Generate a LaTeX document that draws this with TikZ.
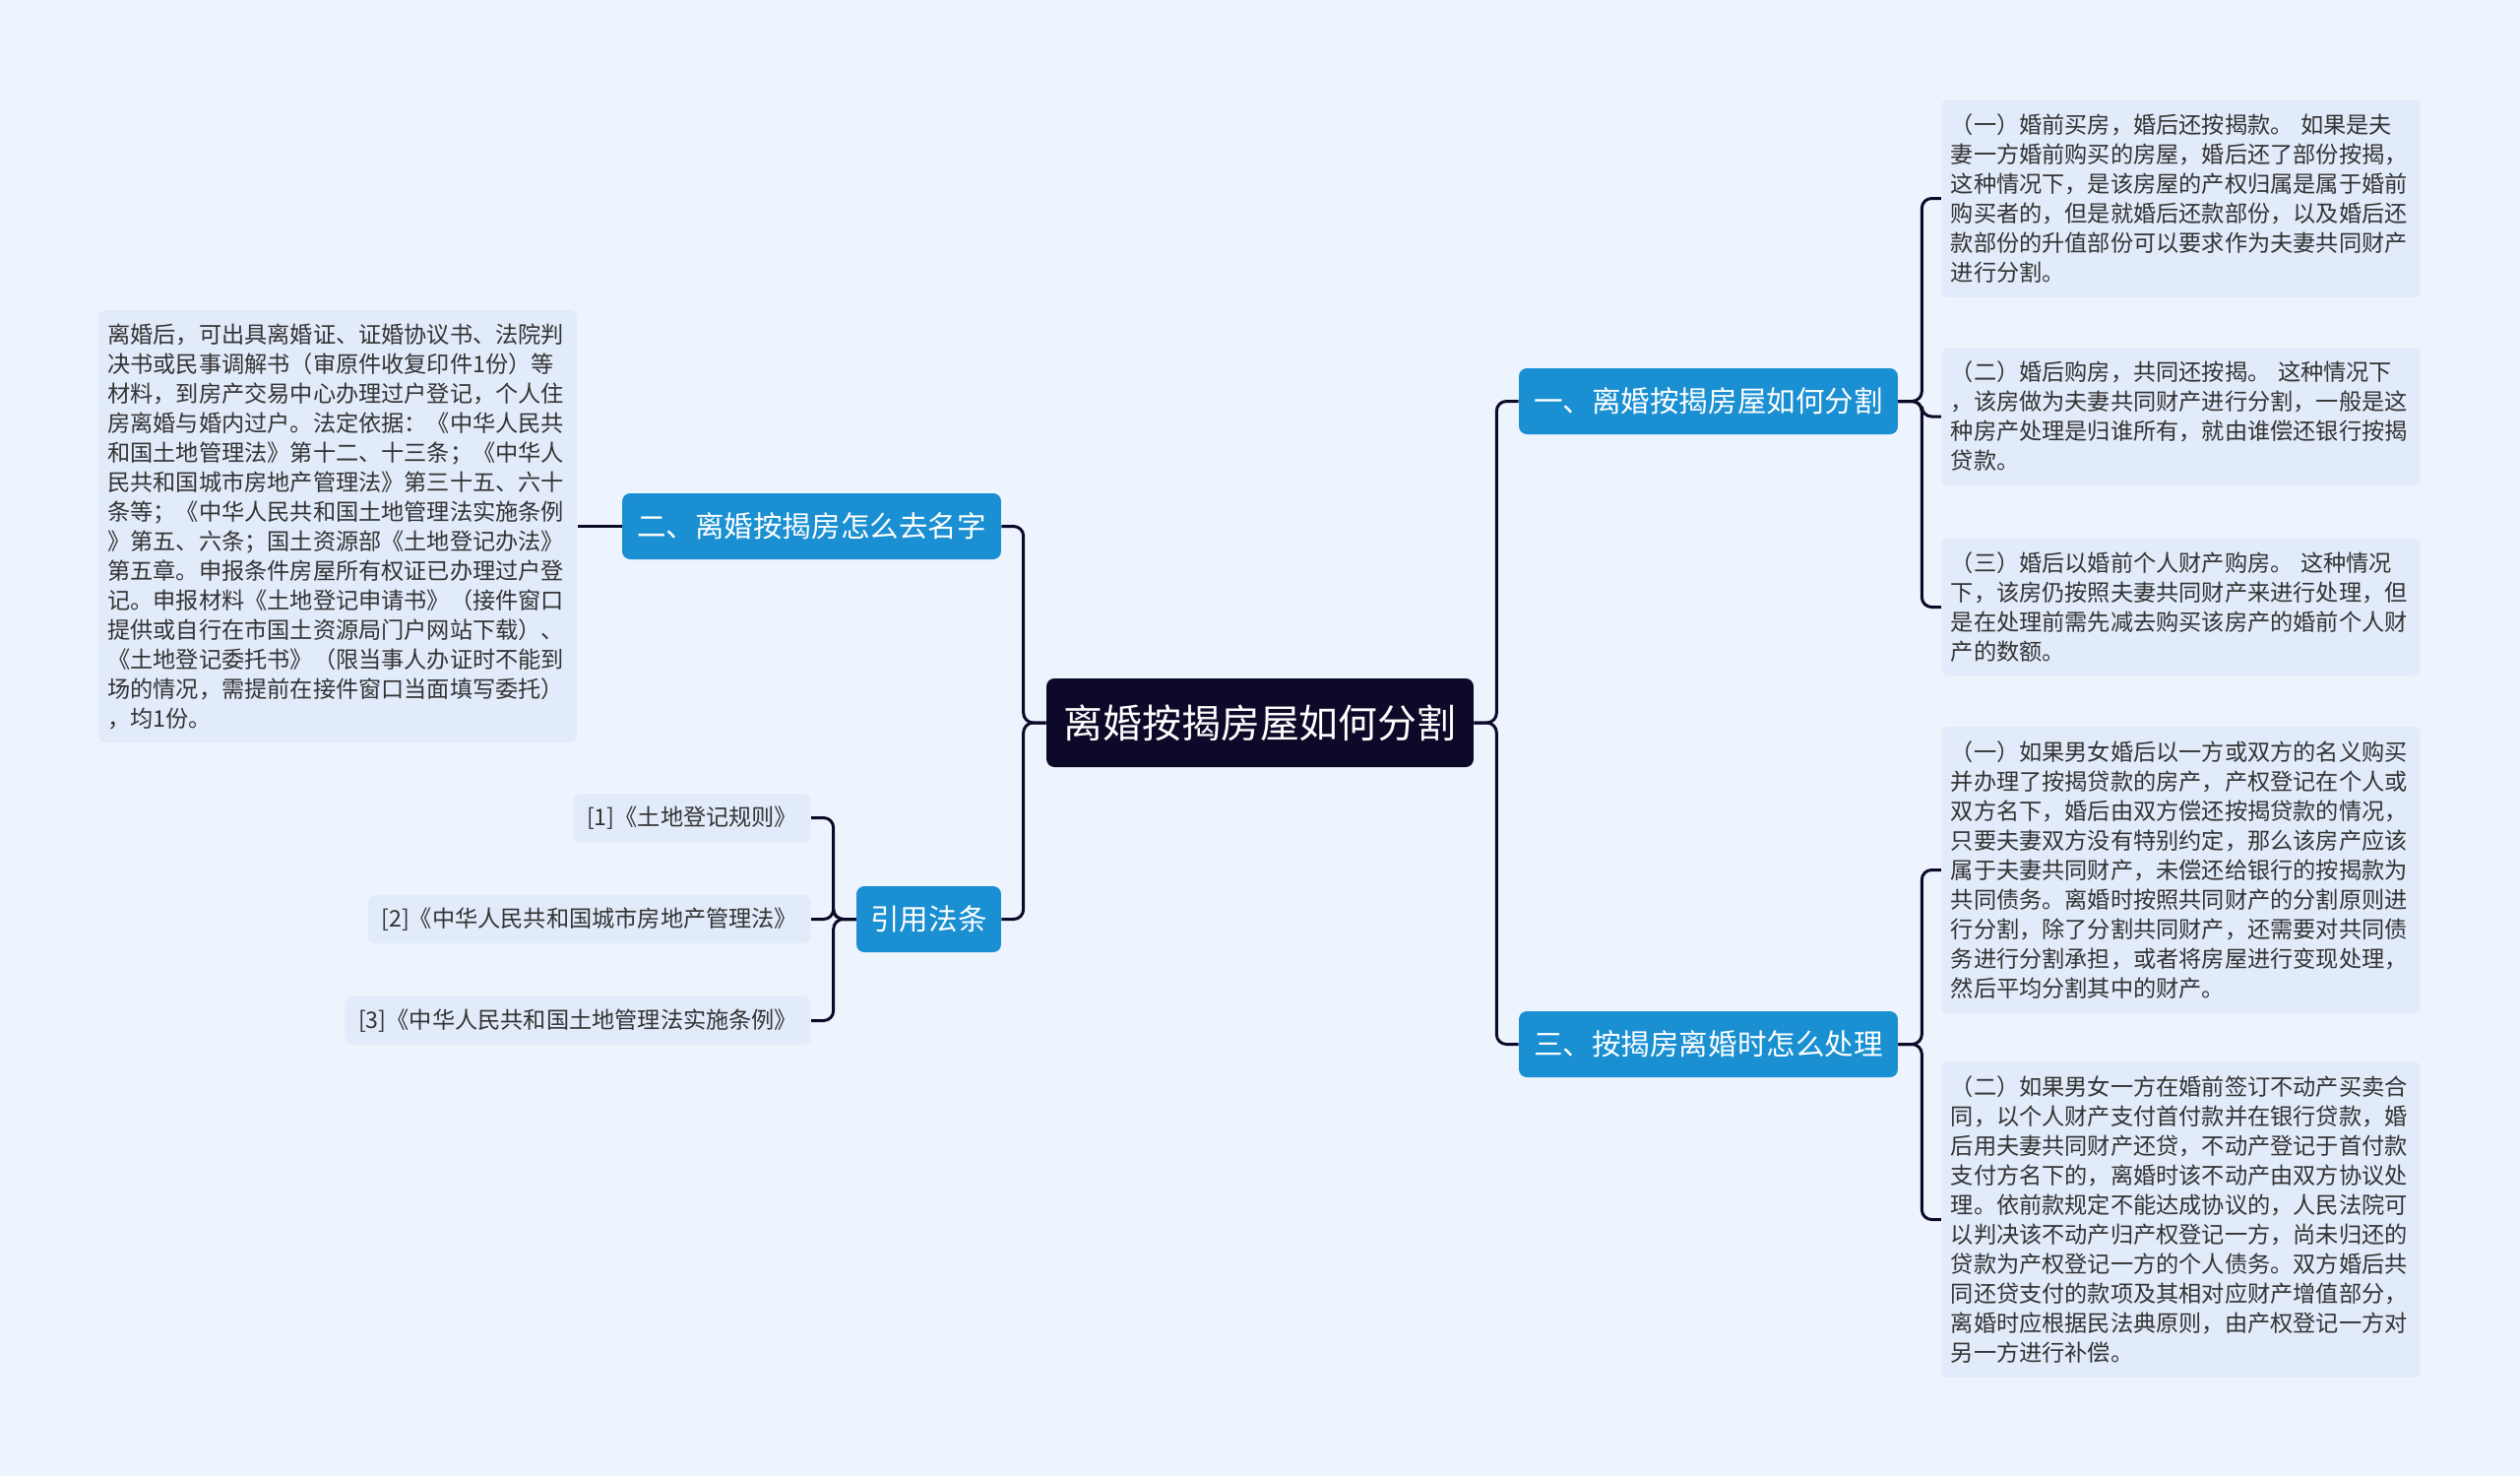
\documentclass[tikz,border=0pt]{standalone}
\usepackage{fontspec}
\setmainfont{Noto Sans CJK SC}
\definecolor{pagebg}{HTML}{EEF4FE}
\definecolor{notefill}{HTML}{E2EBFA}
\definecolor{notetext}{HTML}{333333}
\definecolor{topicblue}{HTML}{1A8FD2}
\definecolor{rootnavy}{HTML}{0C0A28}
\begin{document}
\begin{tikzpicture}[x=0.02cm, y=-0.02cm,
    rootbox/.style={fill=rootnavy, rounded corners=0.16cm, text=white, font=\fontsize{22.7}{27}\selectfont, minimum width=8.68cm, minimum height=1.8cm, inner sep=0pt},
    topicbox/.style={fill=topicblue, rounded corners=0.16cm, text=white, font=\fontsize{16.8}{20}\selectfont, minimum height=1.34cm, inner sep=0pt},
    notebox/.style={fill=notefill, rounded corners=0.14cm, text=notetext, font=\fontsize{13.2}{17.07}\selectfont, align=left, text width=9.35cm, inner xsep=0.19cm, inner ysep=0pt},
    refbox/.style={fill=notefill, rounded corners=0.14cm, text=notetext, font=\fontsize{13.2}{16}\selectfont, inner xsep=0.27cm, minimum height=0.98cm, anchor=east},
    link/.style={draw=rootnavy, line width=1.7pt, rounded corners=0.2cm}]
    \fill[pagebg] (0,0) rectangle (2560,1499);

    \node (root) [rootbox] at (1280,734) {离婚按揭房屋如何分割};

    \node (topic1) [topicbox, minimum width=7.7cm] at (1735.5,407.5) {一、离婚按揭房屋如何分割};
    \node (topic3) [topicbox, minimum width=7.7cm] at (1735.5,1060.5) {三、按揭房离婚时怎么处理};
    \node (topic2) [topicbox, minimum width=7.7cm] at (824.5,534.5) {二、离婚按揭房怎么去名字};
    \node (cite) [topicbox, minimum width=2.94cm] at (943.5,933.5) {引用法条};

    \node (lnote) [notebox, minimum height=8.78cm] at (343,534.5) {离婚后，可出具离婚证、证婚协议书、法院判\\决书或民事调解书（审原件收复印件1份）等\\材料，到房产交易中心办理过户登记，个人住\\房离婚与婚内过户。法定依据：《中华人民共\\和国土地管理法》第十二、十三条；《中华人\\民共和国城市房地产管理法》第三十五、六十\\条等；《中华人民共和国土地管理法实施条例\\》第五、六条；国土资源部《土地登记办法》\\第五章。申报条件房屋所有权证已办理过户登\\记。申报材料《土地登记申请书》（接件窗口\\提供或自行在市国土资源局门户网站下载）、\\《土地登记委托书》（限当事人办证时不能到\\场的情况，需提前在接件窗口当面填写委托）\\，均1份。};

    \node (n1) [notebox, minimum height=4.02cm] at (2215.5,201.5) {（一）婚前买房，婚后还按揭款。 如果是夫\\妻一方婚前购买的房屋，婚后还了部份按揭，\\这种情况下，是该房屋的产权归属是属于婚前\\购买者的，但是就婚后还款部份，以及婚后还\\款部份的升值部份可以要求作为夫妻共同财产\\进行分割。};
    \node (n2) [notebox, minimum height=2.8cm] at (2215.5,423) {（二）婚后购房，共同还按揭。 这种情况下\\，该房做为夫妻共同财产进行分割，一般是这\\种房产处理是归谁所有，就由谁偿还银行按揭\\贷款。};
    \node (n3) [notebox, minimum height=2.78cm] at (2215.5,616.5) {（三）婚后以婚前个人财产购房。 这种情况\\下，该房仍按照夫妻共同财产来进行处理，但\\是在处理前需先减去购买该房产的婚前个人财\\产的数额。};
    \node (n4) [notebox, minimum height=5.82cm] at (2215.5,883.5) {（一）如果男女婚后以一方或双方的名义购买\\并办理了按揭贷款的房产，产权登记在个人或\\双方名下，婚后由双方偿还按揭贷款的情况，\\只要夫妻双方没有特别约定，那么该房产应该\\属于夫妻共同财产，未偿还给银行的按揭款为\\共同债务。离婚时按照共同财产的分割原则进\\行分割，除了分割共同财产，还需要对共同债\\务进行分割承担，或者将房屋进行变现处理，\\然后平均分割其中的财产。};
    \node (n5) [notebox, minimum height=6.42cm] at (2215.5,1238.5) {（二）如果男女一方在婚前签订不动产买卖合\\同，以个人财产支付首付款并在银行贷款，婚\\后用夫妻共同财产还贷，不动产登记于首付款\\支付方名下的，离婚时该不动产由双方协议处\\理。依前款规定不能达成协议的，人民法院可\\以判决该不动产归产权登记一方，尚未归还的\\贷款为产权登记一方的个人债务。双方婚后共\\同还贷支付的款项及其相对应财产增值部分，\\离婚时应根据民法典原则，由产权登记一方对\\另一方进行补偿。};

    \node (ref1) [refbox] at (824,830.5) {[1]《土地登记规则》};
    \node (ref2) [refbox] at (824,933.5) {[2]《中华人民共和国城市房地产管理法》};
    \node (ref3) [refbox] at (824,1036.5) {[3]《中华人民共和国土地管理法实施条例》};

    \draw[link] (root.east) -- ++(23,0) |- (topic1.west);
    \draw[link] (root.east) -- ++(23,0) |- (topic3.west);
    \draw[link] (root.west) -- ++(-23,0) |- (topic2.east);
    \draw[link] (root.west) -- ++(-23,0) |- (cite.east);
    \draw[link] (topic2.west) -- (lnote.east);
    \foreach \n in {n1,n2,n3}
        \draw[link] (topic1.east) -- ++(24,0) |- (\n.west);
    \foreach \n in {n4,n5}
        \draw[link] (topic3.east) -- ++(24,0) |- (\n.west);
    \foreach \r in {ref1,ref2,ref3}
        \draw[link] (cite.west) -- ++(-23,0) |- (\r.east);
\end{tikzpicture}
\end{document}
